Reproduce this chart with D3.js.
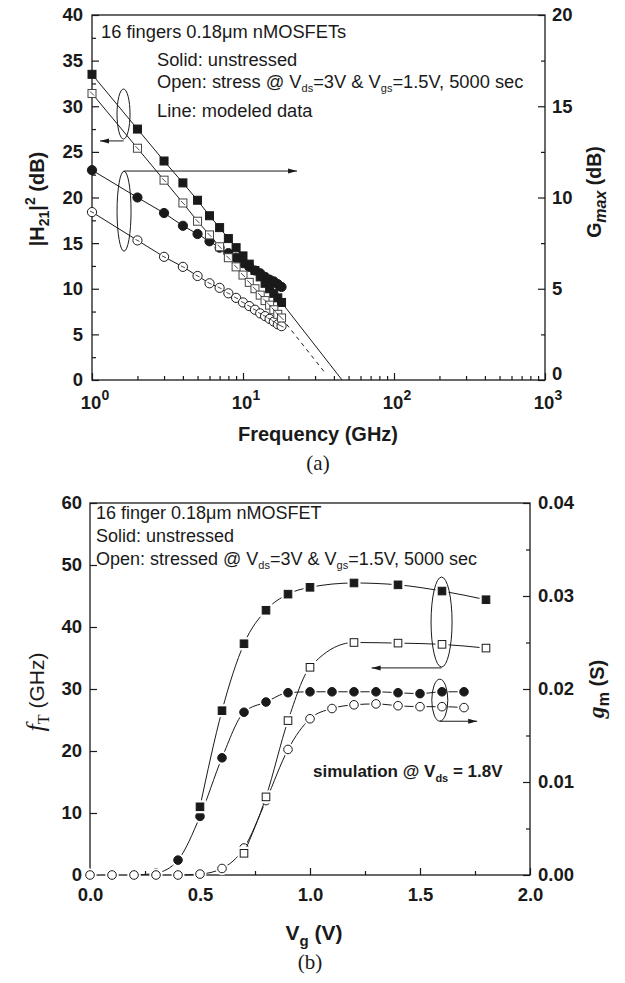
<!DOCTYPE html>
<html>
<head>
<meta charset="utf-8">
<script src="https://cdn.jsdelivr.net/npm/d3@7/dist/d3.min.js"></script>
<style>
  body { margin: 0; background: #fff; }
  svg { display: block; }
</style>
</head>
<body>
<script>
// ---------- Panel (a): |H21|^2 and Gmax versus frequency ----------
const freqGHz = [1, 2, 3, 4, 5, 6, 7, 8, 9, 10, 11, 12, 13, 14, 15, 16, 17, 18];
// |H21|^2 (dB), left axis
const h21Unstressed = [33.5, 27.5, 24.0, 21.6, 19.7, 18.0, 16.7, 15.5, 14.5, 13.6, 12.7, 12.0, 11.3, 10.6, 10.0, 9.5, 9.0, 8.5];
const h21Stressed   = [31.4, 25.4, 21.9, 19.4, 17.4, 15.9, 14.6, 13.4, 12.4, 11.5, 10.7, 10.0, 9.3, 8.7, 8.2, 7.7, 7.2, 6.8];
// Gmax (dB), right axis
const gmaxUnstressed = [11.5, 10.0, 9.15, 8.45, 8.0, 7.6, 7.25, 6.95, 6.7, 6.4, 6.2, 6.0, 5.85, 5.65, 5.5, 5.4, 5.25, 5.1];
const gmaxStressed   = [9.2, 7.65, 6.75, 6.2, 5.7, 5.3, 5.05, 4.75, 4.5, 4.25, 4.05, 3.85, 3.65, 3.5, 3.35, 3.2, 3.05, 2.95];
// modeled |H21|^2 lines carried past the measured band: [unstressed, stressed]
const h21ExtrapFreq  = [45.3, 34.9];
const h21ExtrapValue = [0, 0.8];
const freqMajorTicks = [1, 10, 100, 1000];
const h21Ticks  = [0, 5, 10, 15, 20, 25, 30, 35, 40];
const gmaxTicks = [0, 5, 10, 15, 20];

// ---------- Panel (b): fT and gm versus gate voltage ----------
const vgSquaresUnstressed = [0.5, 0.6, 0.7, 0.8, 0.9, 1.0, 1.2, 1.4, 1.6, 1.8];
const fTUnstressed        = [11.0, 26.5, 37.3, 42.7, 45.3, 46.4, 47.1, 46.8, 45.8, 44.4];
const vgSquaresStressed   = [0.7, 0.8, 0.9, 1.0, 1.2, 1.4, 1.6, 1.8];
const fTStressed          = [3.5, 12.6, 24.9, 33.5, 37.5, 37.4, 37.2, 36.6];
const vgCircles = [0.0, 0.1, 0.2, 0.3, 0.4, 0.5, 0.6, 0.7, 0.8, 0.9, 1.0, 1.1, 1.2, 1.3, 1.4, 1.5, 1.6, 1.7];
// gm (S), right axis
const gmUnstressed = [0, 0, 0, 0.0002, 0.0016, 0.0063, 0.0126, 0.0175, 0.0186, 0.0196, 0.0197, 0.0197, 0.0197, 0.0197, 0.0196, 0.0195, 0.0197, 0.0197];
const gmStressed   = [0, 0, 0, 0, 0, 0.0001, 0.0007, 0.0029, 0.0080, 0.0135, 0.0168, 0.0179, 0.0183, 0.0184, 0.0182, 0.0181, 0.0181, 0.0180];
const vgTicks = [0, 0.5, 1.0, 1.5, 2.0];
const fTTicks = [0, 10, 20, 30, 40, 50, 60];
const gmTicks = [0, 0.01, 0.02, 0.03, 0.04];

const SANS = "'Liberation Sans', Arial, Helvetica, sans-serif";
const SERIF = "'Liberation Serif', 'Times New Roman', serif";
const INK = "#1a1a1a";

const svg = d3.select("body").append("svg")
  .attr("width", 625).attr("height", 983)
  .attr("font-family", SANS);

// write a text made of plain / sub / sup runs
function richText(g, x, y, parts, opts = {}) {
  const t = g.append("text").attr("x", x).attr("y", y)
    .attr("font-size", opts.size || 16)
    .attr("font-weight", opts.weight || "normal")
    .attr("text-anchor", opts.anchor || "start")
    .attr("fill", INK);
  if (opts.transform) t.attr("transform", opts.transform);
  let shift = 0;
  parts.forEach(p => {
    const [str, kind, extra] = typeof p === "string" ? [p, "n", {}] : [p[0], p[1], p[2] || {}];
    const s = t.append("tspan").text(str);
    let target = 0;
    if (kind === "sub") { target = extra.dy || 4; s.attr("font-size", extra.size || 11); }
    if (kind === "sup") { target = extra.dy || -8; s.attr("font-size", extra.size || 13); }
    s.attr("dy", target - shift);
    shift = target;
    if (extra.style) s.attr("font-style", extra.style);
    if (extra.family) s.attr("font-family", extra.family);
    if (extra.weight) s.attr("font-weight", extra.weight);
    if (extra.size && kind === "n") s.attr("font-size", extra.size);
  });
  return t;
}

function arrow(g, x1, y1, x2, y2) {
  g.append("line").attr("x1", x1).attr("y1", y1).attr("x2", x2).attr("y2", y2)
    .attr("stroke", INK).attr("stroke-width", 1);
  const dir = Math.sign(x2 - x1);
  g.append("path")
    .attr("d", `M${x2},${y2} L${x2 - dir * 9},${y2 - 2.5} L${x2 - dir * 9},${y2 + 2.5} Z`)
    .attr("fill", INK);
}

function styleAxis(sel) {
  sel.select(".domain").remove();
  sel.selectAll(".tick line").attr("stroke", INK).attr("stroke-width", 1.2);
  sel.selectAll(".tick text").attr("fill", INK).attr("font-family", SANS)
    .attr("font-weight", "bold").attr("font-size", 18.5);
}

// =================== Panel (a) ===================
{
  const x = d3.scaleLog().domain([1, 1000]).range([92, 545]);
  const yL = d3.scaleLinear().domain([0, 40]).range([380, 15]);
  const yR = d3.scaleLinear().domain([0, 20]).range([380, 15]);
  const g = svg.append("g");

  // left axis
  g.append("g").attr("transform", "translate(92,0)")
    .call(d3.axisLeft(yL).tickValues(h21Ticks).tickSizeInner(-7).tickSizeOuter(0).tickPadding(9))
    .call(styleAxis);
  g.append("g").attr("transform", "translate(92,0)")
    .call(d3.axisLeft(yL).tickValues(d3.range(2.5, 40, 5)).tickSizeInner(-4).tickSizeOuter(0).tickFormat(""))
    .call(styleAxis);
  // right axis
  g.append("g").attr("transform", "translate(545,0)")
    .call(d3.axisRight(yR).tickValues(gmaxTicks).tickSizeInner(-7).tickSizeOuter(0).tickPadding(7))
    .call(styleAxis)
    .call(a => a.selectAll(".tick text").filter(d => d === 0).attr("dy", "-0.05em"));
  g.append("g").attr("transform", "translate(545,0)")
    .call(d3.axisRight(yR).tickValues(d3.range(2.5, 20, 5)).tickSizeInner(-4).tickSizeOuter(0).tickFormat(""))
    .call(styleAxis);
  // bottom log axis
  const minor = [];
  [1, 10, 100].forEach(d => { for (let k = 2; k <= 9; k++) minor.push(d * k); });
  g.append("g").attr("transform", "translate(0,380)")
    .call(d3.axisBottom(x).tickValues(freqMajorTicks).tickSizeInner(-7).tickSizeOuter(0).tickFormat(""))
    .call(styleAxis);
  g.append("g").attr("transform", "translate(0,380)")
    .call(d3.axisBottom(x).tickValues(minor).tickSizeInner(-4).tickSizeOuter(0).tickFormat(""))
    .call(styleAxis);
  freqMajorTicks.forEach(v => {
    richText(g, x(v) + 3, 409, ["10", [String(Math.round(Math.log10(v))), "sup", { size: 14, dy: -9 }]],
      { size: 18.5, weight: "bold", anchor: "middle" });
  });
  // frame
  g.append("rect").attr("x", 92).attr("y", 15).attr("width", 453).attr("height", 365)
    .attr("fill", "none").attr("stroke", INK).attr("stroke-width", 1.3);

  // axis titles
  richText(g, 318, 441, ["Frequency (GHz)"], { size: 20, weight: "bold", anchor: "middle" });
  richText(g, 0, 0, ["|H", ["21", "sub", { size: 14, dy: 5 }], "|", ["2", "sup", { size: 14, dy: -9 }], " (dB)"],
    { size: 20, weight: "bold", anchor: "middle", transform: "translate(44,199) rotate(-90)" });
  richText(g, 0, 0, ["G", ["max", "sub", { size: 16, dy: 5, style: "italic" }], " (dB)"],
    { size: 19.5, weight: "bold", anchor: "middle", transform: "translate(601,192) rotate(-90)" });
  g.append("text").attr("x", 318).attr("y", 470).attr("text-anchor", "middle")
    .attr("font-family", SERIF).attr("font-size", 21).attr("fill", INK).text("(a)");

  // legend text
  richText(g, 101, 38, ["16 fingers 0.18\u03bcm nMOSFETs"], { size: 18.3 });
  richText(g, 157, 66, ["Solid: unstressed"], { size: 18.3 });
  richText(g, 157, 88, ["Open: stress @ V", ["ds", "sub"], "=3V & V", ["gs", "sub"], "=1.5V, 5000 sec"], { size: 18.3 });
  richText(g, 157, 117, ["Line: modeled data"], { size: 18.3 });

  // modeled lines
  const lineL = d3.line().x(d => x(d[0])).y(d => yL(d[1]));
  const lineR = d3.line().x(d => x(d[0])).y(d => yR(d[1]));
  const solidSq = freqGHz.map((f, i) => [f, h21Unstressed[i]]);
  const openSq = freqGHz.map((f, i) => [f, h21Stressed[i]]);
  const solidCi = freqGHz.map((f, i) => [f, gmaxUnstressed[i]]);
  const openCi = freqGHz.map((f, i) => [f, gmaxStressed[i]]);
  const ln = (d, gen, dash) => g.append("path").attr("d", gen(d)).attr("fill", "none")
    .attr("stroke", INK).attr("stroke-width", 1).attr("stroke-dasharray", dash || null);
  ln(solidSq.concat([[h21ExtrapFreq[0], h21ExtrapValue[0]]]), lineL);
  ln(openSq, lineL);
  ln([openSq[openSq.length - 1], [h21ExtrapFreq[1], h21ExtrapValue[1]]], lineL, "4,4");
  ln(solidCi, lineR);
  ln(openCi, lineR);

  // markers
  const circ = (data, ys, fill) => g.append("g").selectAll("circle").data(data).join("circle")
    .attr("cx", d => x(d[0])).attr("cy", d => ys(d[1])).attr("r", 4.6)
    .attr("fill", fill).attr("stroke", INK).attr("stroke-width", 1);
  const sq = (data, ys, fill, stroke) => g.append("g").selectAll("rect").data(data).join("rect")
    .attr("x", d => x(d[0]) - 4).attr("y", d => ys(d[1]) - 4).attr("width", 8).attr("height", 8)
    .attr("fill", fill).attr("stroke", stroke).attr("stroke-width", 1);
  circ(solidCi, yR, INK);
  circ(openCi, yR, "#fff");
  sq(solidSq, yL, INK, INK);
  sq(openSq, yL, "#fff", "#444");
  // the short stroke of the fitted line visible inside the open symbols
  const insideSeg = (data, ys, gen) => g.append("g").selectAll("line").data(data).join("line")
    .attr("x1", d => x(d[0]) - 2).attr("x2", d => x(d[0]) + 2)
    .attr("y1", d => ys(d[1]) - 2).attr("y2", d => ys(d[1]) + 2)
    .attr("stroke", INK).attr("stroke-width", 0.8);
  insideSeg(openSq, yL);
  g.append("g").selectAll("line").data(openCi).join("line")
    .attr("x1", d => x(d[0]) - 2).attr("x2", d => x(d[0]) + 2)
    .attr("y1", d => yR(d[1]) - 1).attr("y2", d => yR(d[1]) + 1)
    .attr("stroke", INK).attr("stroke-width", 0.8);

  // grouping ellipses and arrows
  g.append("ellipse").attr("cx", x(1.617)).attr("cy", yL(29.15)).attr("rx", 6.5).attr("ry", 25)
    .attr("fill", "none").attr("stroke", INK).attr("stroke-width", 1);
  arrow(g, x(1.62), yL(26.2), x(1.13), yL(26.2));
  g.append("ellipse").attr("cx", x(1.63)).attr("cy", yL(18.5)).attr("rx", 7).attr("ry", 40)
    .attr("fill", "none").attr("stroke", INK).attr("stroke-width", 1);
  arrow(g, x(1.63), yL(22.9), x(22.8), yL(22.9));
}

// =================== Panel (b) ===================
{
  const x = d3.scaleLinear().domain([0, 2]).range([90, 530]);
  const yL = d3.scaleLinear().domain([0, 60]).range([875, 503]);
  const yR = d3.scaleLinear().domain([0, 0.04]).range([875, 503]);
  const g = svg.append("g");

  g.append("g").attr("transform", "translate(90,0)")
    .call(d3.axisLeft(yL).tickValues(fTTicks).tickSizeInner(-7).tickSizeOuter(0).tickPadding(8))
    .call(styleAxis);
  g.append("g").attr("transform", "translate(530,0)")
    .call(d3.axisRight(yR).tickValues(gmTicks).tickSizeInner(-7).tickSizeOuter(0).tickPadding(8)
      .tickFormat(d3.format(".2f")))
    .call(styleAxis);
  g.append("g").attr("transform", "translate(530,0)")
    .call(d3.axisRight(yR).tickValues([0.005, 0.015, 0.025, 0.035]).tickSizeInner(-4).tickSizeOuter(0).tickFormat(""))
    .call(styleAxis);
  g.append("g").attr("transform", "translate(0,875)")
    .call(d3.axisBottom(x).tickValues(vgTicks).tickSizeInner(-7).tickSizeOuter(0).tickPadding(13)
      .tickFormat(d3.format(".1f")))
    .call(styleAxis);
  g.append("g").attr("transform", "translate(0,875)")
    .call(d3.axisBottom(x).tickValues([0.25, 0.75, 1.25, 1.75]).tickSizeInner(-4).tickSizeOuter(0).tickFormat(""))
    .call(styleAxis);
  g.append("rect").attr("x", 90).attr("y", 503).attr("width", 440).attr("height", 372)
    .attr("fill", "none").attr("stroke", INK).attr("stroke-width", 1.3);

  // axis titles
  richText(g, 314, 940, ["V", ["g", "sub", { size: 15, dy: 6, weight: "bold" }], " (V)"],
    { size: 21, weight: "bold", anchor: "middle" });
  richText(g, 0, 0, [["f", "n", { family: SERIF, style: "italic", size: 26 }],
                     ["T", "sub", { family: SERIF, size: 16, dy: 5 }], " (GHz)"],
    { size: 21, anchor: "middle", transform: "translate(44,692) rotate(-90)" });
  richText(g, 0, 0, [["g", "n", { family: SERIF, style: "italic", weight: "bold", size: 24 }],
                     ["m", "sub", { size: 16, dy: 5, weight: "bold" }], " (S)"],
    { size: 20, weight: "bold", anchor: "middle", transform: "translate(604,689) rotate(-90)" });
  g.append("text").attr("x", 310).attr("y", 969).attr("text-anchor", "middle")
    .attr("font-family", SERIF).attr("font-size", 21).attr("fill", INK).text("(b)");

  // legend text
  richText(g, 96, 519, ["16 finger 0.18\u03bcm nMOSFET"], { size: 18 });
  richText(g, 96, 542, ["Solid: unstressed"], { size: 18 });
  richText(g, 96, 565, ["Open: stressed @ V", ["ds", "sub"], "=3V & V", ["gs", "sub"], "=1.5V, 5000 sec"], { size: 18 });
  richText(g, 313, 777, ["simulation @ V", ["ds", "sub", { size: 11, dy: 5 }], " = 1.8V"], { size: 17, weight: "bold" });

  const curveL = d3.line().x(d => x(d[0])).y(d => yL(d[1])).curve(d3.curveMonotoneX);
  const curveR = d3.line().x(d => x(d[0])).y(d => yR(d[1])).curve(d3.curveMonotoneX);

  const solidSq = vgSquaresUnstressed.map((v, i) => [v, fTUnstressed[i]]);
  const openSq = vgSquaresStressed.map((v, i) => [v, fTStressed[i]]);
  const solidCi = vgCircles.map((v, i) => [v, gmUnstressed[i]]);
  const openCi = vgCircles.map((v, i) => [v, gmStressed[i]]);

  // each series: line, white gap around the symbols, then the symbols
  function series(data, lineData, gen, ys, shape, fill) {
    g.append("path").attr("d", gen(lineData)).attr("fill", "none")
      .attr("stroke", INK).attr("stroke-width", 1);
    const grp = g.append("g");
    if (shape === "sq") {
      grp.selectAll(".halo").data(data).join("rect")
        .attr("x", d => x(d[0]) - 6.5).attr("y", d => ys(d[1]) - 6.5).attr("width", 13).attr("height", 13)
        .attr("fill", "#fff");
      grp.selectAll(".mk").data(data).join("rect")
        .attr("x", d => x(d[0]) - 3.8).attr("y", d => ys(d[1]) - 3.8).attr("width", 7.6).attr("height", 7.6)
        .attr("fill", fill).attr("stroke", INK).attr("stroke-width", 1);
    } else {
      grp.selectAll(".halo").data(data).join("circle")
        .attr("cx", d => x(d[0])).attr("cy", d => ys(d[1])).attr("r", 6.5).attr("fill", "#fff");
      grp.selectAll(".mk").data(data).join("circle")
        .attr("cx", d => x(d[0])).attr("cy", d => ys(d[1])).attr("r", 4.3)
        .attr("fill", fill).attr("stroke", INK).attr("stroke-width", 1);
    }
  }
  series(solidCi, solidCi.filter(d => d[0] >= 0.2), curveR, yR, "ci", INK);
  series(openCi, openCi.filter(d => d[0] >= 0.4), curveR, yR, "ci", "#fff");
  series(solidSq, solidSq, curveL, yL, "sq", INK);
  series(openSq, openSq, curveL, yL, "sq", "#fff");

  // grouping ellipses and arrows
  g.append("ellipse").attr("cx", x(1.598)).attr("cy", yL(40.8)).attr("rx", 10.5).attr("ry", 45)
    .attr("fill", "none").attr("stroke", INK).attr("stroke-width", 1);
  arrow(g, x(1.598), yL(33.4), x(1.28), yL(33.4));
  g.append("ellipse").attr("cx", x(1.59)).attr("cy", yL(28.2)).attr("rx", 8).attr("ry", 21)
    .attr("fill", "none").attr("stroke", INK).attr("stroke-width", 1);
  arrow(g, x(1.59), yL(24.8), x(1.76), yL(24.8));
}
</script>
</body>
</html>
